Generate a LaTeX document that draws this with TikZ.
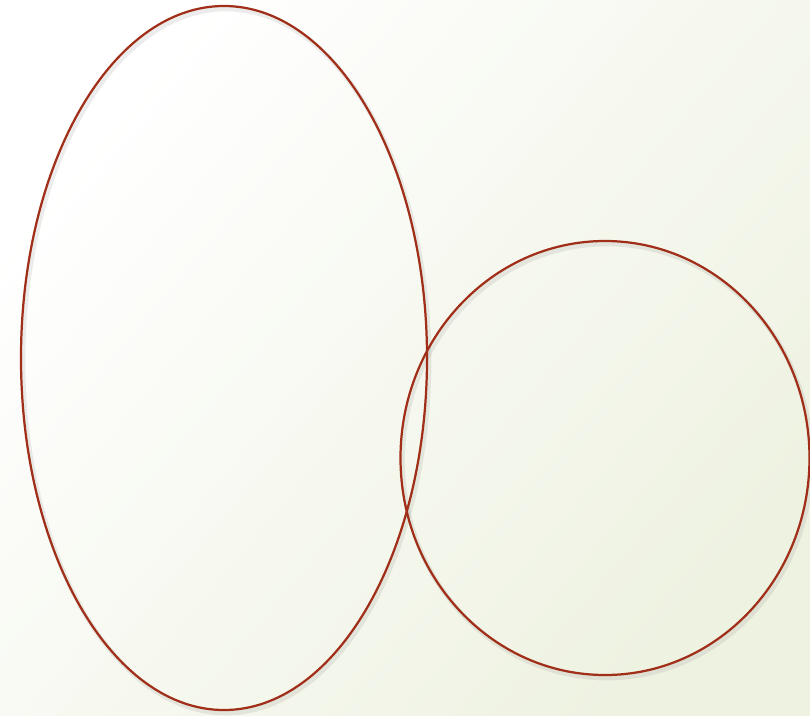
\documentclass[tikz,border=0pt]{standalone}
\usepackage{xcolor}
\usepackage{tikz}
\usetikzlibrary{shapes.geometric}

\definecolor{rimred}{HTML}{A02E18}
\definecolor{paleleaf}{HTML}{EEF2E1}

\tikzset{
  loop/.style={draw=rimred,line width=1.9pt,ellipse,inner sep=0pt},
  halo/.style={draw=black!60,opacity=0.12,line width=4pt,ellipse,inner sep=0pt}
}

\begin{document}
\begin{tikzpicture}[x=0.03cm,y=-0.03cm]
  % backdrop
  \shade[left color=white,right color=paleleaf,shading angle=50] (0,0) rectangle (810,715);
  \useasboundingbox (0,0) rectangle (810,715);
  % faint shadows
  \node[halo,minimum width=12.18cm,minimum height=21.12cm] (tallshadow) at (226,361) {};
  \node[halo,minimum width=12.27cm,minimum height=13.02cm] (roundshadow) at (607,461) {};
  % the two outlines
  \node[loop,minimum width=12.18cm,minimum height=21.12cm] (tall) at (224,358) {};
  \node[loop,minimum width=12.27cm,minimum height=13.02cm] (round) at (605,458) {};
\end{tikzpicture}
\end{document}
